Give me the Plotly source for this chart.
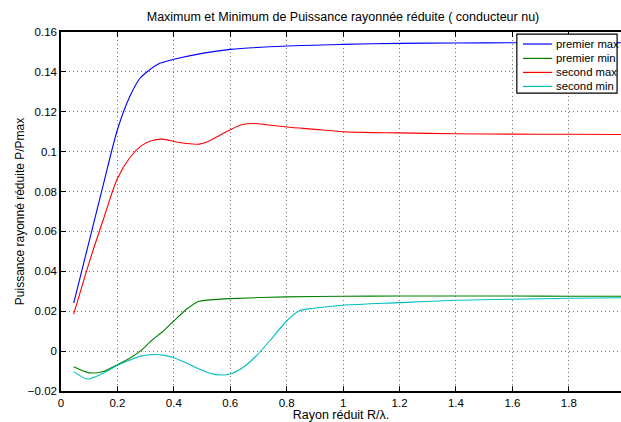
import plotly.graph_objects as go

# Data

x_premier_max = [0.045, 0.1, 0.15, 0.2, 0.245, 0.28, 0.31, 0.35, 0.4, 0.5, 0.6, 0.8,
                 1.0, 1.2, 1.4, 1.6, 1.8, 2.0]
y_premier_max = [0.024, 0.0552, 0.0835, 0.111, 0.128, 0.1368, 0.1406, 0.1443, 0.1463,
                 0.1493, 0.1513, 0.153, 0.1538, 0.1543, 0.1545, 0.1546, 0.1546, 0.1546]

x_second_max = [0.045, 0.1, 0.15, 0.2, 0.245, 0.285, 0.32, 0.36, 0.4, 0.445, 0.49, 0.52,
                0.56, 0.6, 0.64, 0.68, 0.73, 0.8, 0.9, 1.0, 1.2, 1.4, 1.6, 1.8, 2.0]
y_second_max = [0.0185, 0.0445, 0.066, 0.0865, 0.0972, 0.103, 0.1055, 0.1063, 0.1051,
                0.1041, 0.1038, 0.105, 0.108, 0.111, 0.1135, 0.1141, 0.1135, 0.1124,
                0.1112, 0.110, 0.1094, 0.109, 0.1088, 0.1087, 0.1086]

x_premier_min = [0.045, 0.1, 0.15, 0.2, 0.245, 0.285, 0.32, 0.36, 0.4, 0.445, 0.485, 0.53,
                 0.6, 0.8, 1.0, 1.2, 1.4, 1.6, 1.8, 2.0]
y_premier_min = [-0.0079, -0.0109, -0.0102, -0.0068, -0.0035, 0.0005, 0.0052, 0.0097,
                 0.0151, 0.021, 0.0248, 0.0257, 0.0263, 0.0272, 0.0275, 0.0276, 0.0276,
                 0.0276, 0.0275, 0.0275]

x_second_min = [0.045, 0.095, 0.15, 0.2, 0.245, 0.285, 0.325, 0.36, 0.4, 0.445, 0.485,
                0.53, 0.565, 0.6, 0.645, 0.69, 0.74, 0.8, 0.845, 0.895, 1.0, 1.2, 1.4,
                1.6, 1.8, 2.0]
y_second_min = [-0.0103, -0.014, -0.011, -0.0072, -0.0045, -0.0024, -0.0017, -0.002,
                -0.0033, -0.006, -0.0087, -0.0112, -0.012, -0.0115, -0.0082, -0.0027,
                0.0052, 0.0151, 0.0202, 0.0215, 0.023, 0.0243, 0.0255, 0.026, 0.0265,
                0.0268]

names = ['premier max', 'premier min', 'second max', 'second min']
colors = ['#0000ff', '#008000', '#ff0000', '#00bfbf']

x_tickvals = [0, 0.2, 0.4, 0.6, 0.8, 1, 1.2, 1.4, 1.6, 1.8]
x_ticktext = ['0', '0.2', '0.4', '0.6', '0.8', '1', '1.2', '1.4', '1.6', '1.8']
y_tickvals = [-0.02, 0, 0.02, 0.04, 0.06, 0.08, 0.1, 0.12, 0.14, 0.16]
y_ticktext = ['\u22120.02', '0', '0.02', '0.04', '0.06', '0.08', '0.1', '0.12', '0.14', '0.16']

series = {
    'premier max': (x_premier_max, y_premier_max),
    'premier min': (x_premier_min, y_premier_min),
    'second max': (x_second_max, y_second_max),
    'second min': (x_second_min, y_second_min),
}

FONT = 'Liberation Sans, Arial, sans-serif'

fig = go.Figure()
for name, color in zip(names, colors):
    xs, ys = series[name]
    fig.add_trace(go.Scatter(x=xs, y=ys, mode='lines', name=name,
                             line=dict(color=color, width=1.1, shape='spline', smoothing=0.8),
                             showlegend=False))

# MATLAB style legend box, drawn by hand so the rows stay tight
lx0, lx1, ly0, ly1 = 0.814, 0.993, 0.830, 0.994
shapes = [dict(type='rect', xref='paper', yref='paper', x0=lx0, x1=lx1, y0=ly0, y1=ly1,
               line=dict(color='black', width=1.2), fillcolor='white', layer='above')]
annotations = []
row_y = [0.9665, 0.9265, 0.8875, 0.8485]
for name, color, yy in zip(names, colors, row_y):
    shapes.append(dict(type='line', xref='paper', yref='paper', x0=0.825, x1=0.877,
                       y0=yy, y1=yy, line=dict(color=color, width=1.2), layer='above'))
    annotations.append(dict(text=name, xref='paper', yref='paper', x=0.881, y=yy,
                            xanchor='left', yanchor='middle', showarrow=False,
                            font=dict(family=FONT, size=11.3, color='black')))

fig.update_layout(
    width=621, height=422,
    margin=dict(l=61, r=0, t=32, b=31),
    paper_bgcolor='white', plot_bgcolor='white',
    font=dict(family=FONT, size=11.5, color='black'),
    title=dict(text='Maximum et Minimum de Puissance rayonnée réduite ( conducteur nu)',
               x=343 / 621, xref='container', xanchor='center',
               y=1 - 17 / 422, yref='container', yanchor='middle',
               font=dict(family=FONT, size=12.5, color='black')),
    shapes=shapes,
    annotations=annotations,
)

fig.update_xaxes(range=[0, 1.985], tickvals=x_tickvals, ticktext=x_ticktext,
                 showline=True, linecolor='black', linewidth=1.5, mirror='ticks',
                 ticks='inside', ticklen=5, tickcolor='black', tickwidth=1,
                 showgrid=True, gridcolor='#777777', griddash='1px,3px', gridwidth=1,
                 zeroline=False,
                 title=dict(text='Rayon réduit R/λ.', standoff=4,
                            font=dict(family=FONT, size=12.5)))
fig.update_yaxes(range=[-0.02, 0.16], tickvals=y_tickvals, ticktext=y_ticktext,
                 showline=True, linecolor='black', linewidth=1.5,
                 ticks='inside', ticklen=5, tickcolor='black', tickwidth=1,
                 showgrid=True, gridcolor='#777777', griddash='1px,3px', gridwidth=1,
                 zeroline=False,
                 title=dict(text='Puissance rayonné réduite P/Pmax', standoff=1,
                            font=dict(family=FONT, size=12)))

# the page's default body margin would shift the figure by 8px
fig.write_html('out.html', config={'displayModeBar': False},
               post_script="document.body.style.margin='0';")
